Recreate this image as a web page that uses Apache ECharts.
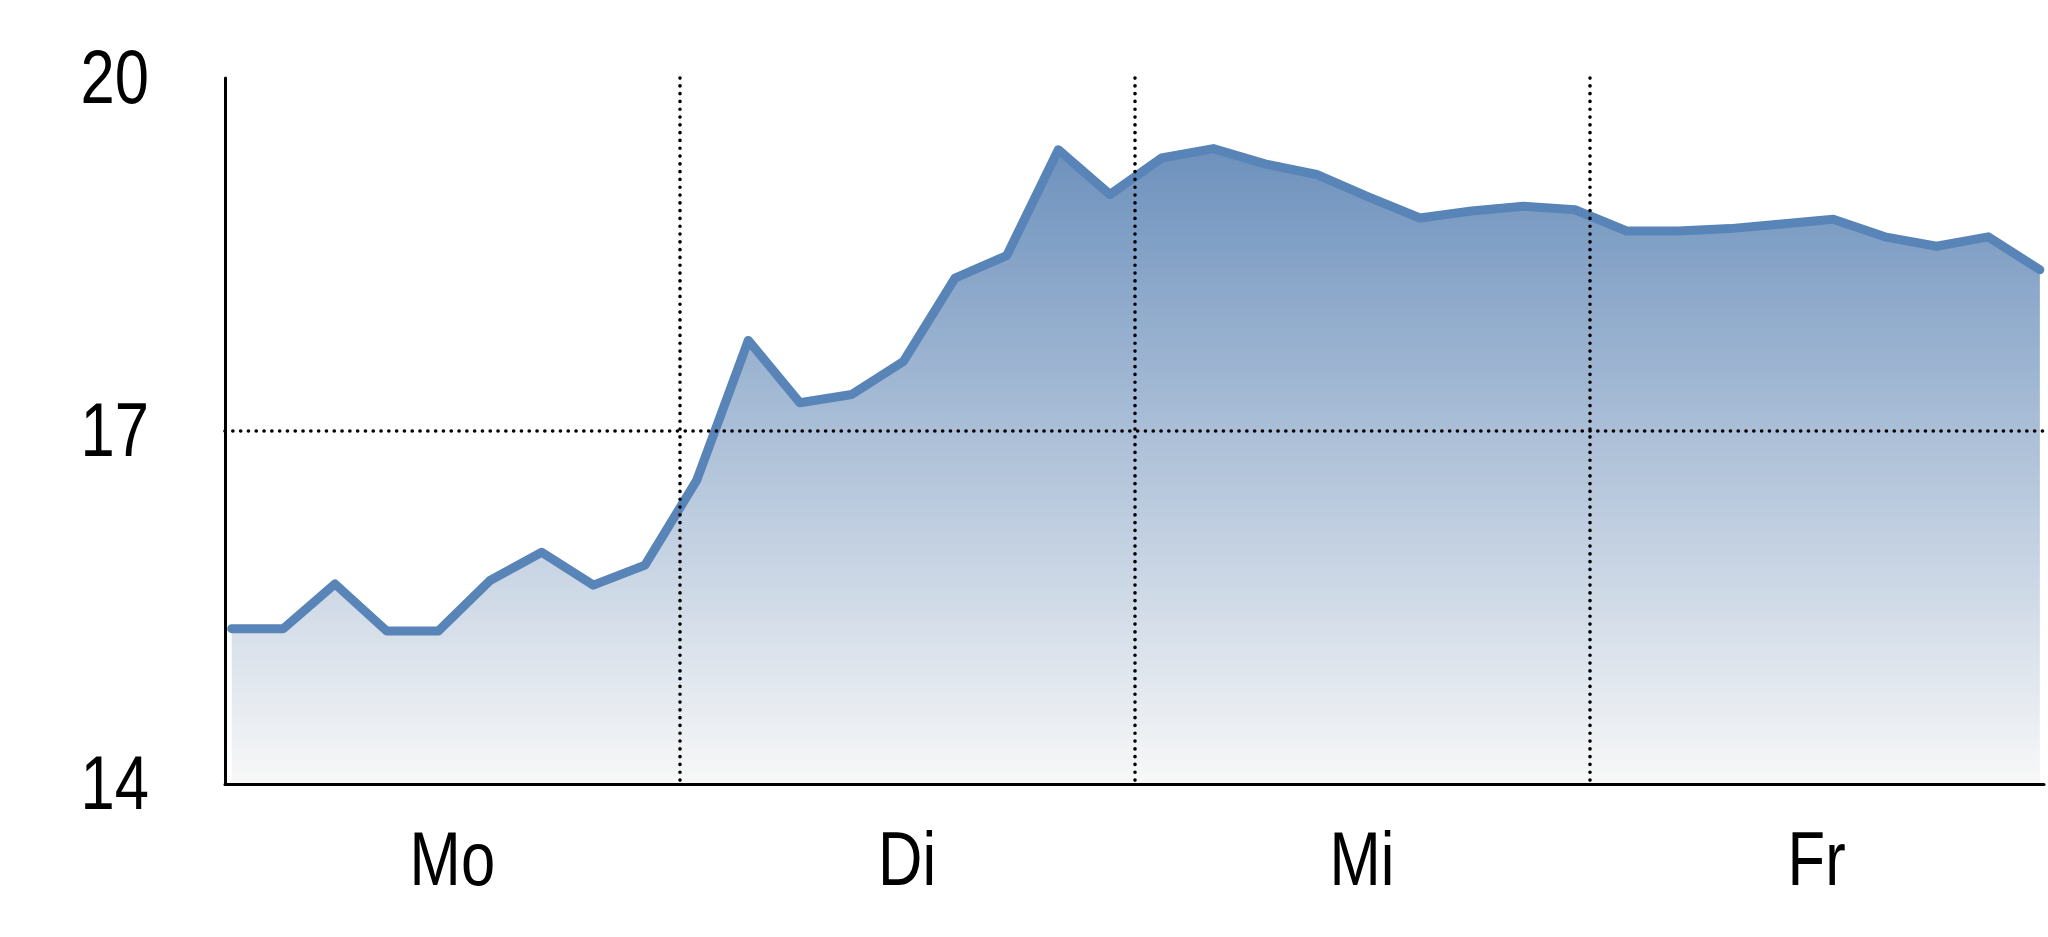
<!DOCTYPE html>
<html>
<head>
<meta charset="utf-8">
<script src="https://cdn.jsdelivr.net/npm/echarts@6/dist/echarts.min.js"></script>
<style>
html,body{margin:0;padding:0;background:#fff;}
#chart{width:2048px;height:937px;}
</style>
</head>
<body>
<div id="chart"></div>
<script>
// ---- data ----
const days = ['Mo', 'Di', 'Mi', 'Fr'];
const yTicks = [14, 17, 20];
const prices = [
  15.32, 15.32, 15.70, 15.30, 15.30, 15.73, 15.97, 15.69, 15.86,
  16.58, 17.77, 17.24, 17.31, 17.59, 18.30, 18.49, 19.39, 19.01,
  19.32, 19.40, 19.27, 19.18, 18.99, 18.81, 18.87, 18.91, 18.88,
  18.70, 18.70, 18.72, 18.76, 18.80, 18.65, 18.57, 18.65, 18.37
];

// ---- styling ----
const labelFont = "'Liberation Sans Narrow', 'Liberation Sans', Arial, sans-serif";
const labelSize = 76;
const narrow = 0.81;   // horizontal compression to mimic a narrow typeface
const chart = echarts.init(document.getElementById('chart'), null, {renderer: 'canvas'});

const dotted = {color: '#000', width: 3.6, type: [0.1, 7.7], cap: 'round'};

chart.setOption({
  backgroundColor: '#ffffff',
  animation: false,
  grid: {left: 225, right: 4, top: 78, bottom: 153, containLabel: false},
  xAxis: [
    {
      type: 'category',
      data: days,
      boundaryGap: true,
      z: 5,
      axisLine: {show: true, onZero: false, lineStyle: {color: '#000', width: 3}},
      axisTick: {show: false},
      axisLabel: {show: false},
      splitLine: {show: true, showMinLine: false, showMaxLine: false, lineStyle: dotted}
    },
    {
      type: 'value',
      show: false,
      min: -0.13,
      max: 35.08,
      splitLine: {show: false}
    }
  ],
  yAxis: {
    type: 'value',
    min: yTicks[0],
    max: yTicks[yTicks.length - 1],
    interval: yTicks[1] - yTicks[0],
    z: 5,
    axisLine: {show: true, onZero: false, lineStyle: {color: '#000', width: 3}},
    axisTick: {show: false},
    axisLabel: {show: false},
    splitLine: {show: true, showMinLine: false, showMaxLine: false, lineStyle: dotted}
  },
  series: [{
    type: 'line',
    xAxisIndex: 1,
    data: prices.map((v, i) => [i, v]),
    showSymbol: false,
    symbol: 'none',
    z: 2,
    lineStyle: {color: '#5884b8', width: 9, cap: 'round', join: 'round'},
    areaStyle: {
      opacity: 1,
      color: {
        type: 'linear', x: 0, y: 0, x2: 0, y2: 1,
        colorStops: [
          {offset: 0, color: '#6d91bd'},
          {offset: 1, color: '#f8f8f8'}
        ]
      }
    }
  }]
});

// ---- axis labels as real text, placed through the chart's own scales ----
const axisY = chart.convertToPixel({yAxisIndex: 0}, yTicks[0]);
const axisX = chart.convertToPixel({xAxisIndex: 1}, -0.13);
const labels = [];
days.forEach(d => {
  const px = chart.convertToPixel({xAxisIndex: 0}, d);
  labels.push({
    type: 'text', x: px, y: axisY + 80, scaleX: narrow, z: 10,
    style: {text: d, fontSize: labelSize, fontFamily: labelFont, fill: '#000',
            align: 'center', verticalAlign: 'middle'}
  });
});
yTicks.forEach(t => {
  const py = chart.convertToPixel({yAxisIndex: 0}, t);
  labels.push({
    type: 'text', x: axisX - 76, y: py + 4, scaleX: narrow, z: 10,
    style: {text: String(t), fontSize: labelSize, fontFamily: labelFont, fill: '#000',
            align: 'right', verticalAlign: 'middle'}
  });
});
chart.setOption({graphic: {elements: labels}});
</script>
</body>
</html>
